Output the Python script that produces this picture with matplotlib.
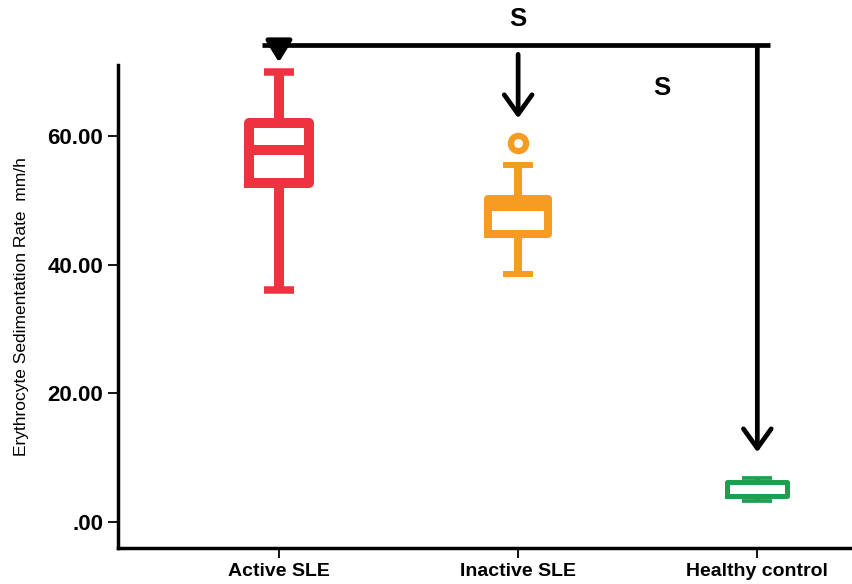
import matplotlib.pyplot as plt

# Datos (mm/h)
grupos = ['Active SLE', 'Inactive SLE', 'Healthy control']
minimos = [36.1, 38.5, 3.3]
q1 = [52.7, 44.8, 4.05]
medianas = [57.8, 49.0, 4.05]
q3 = [62.0, 50.2, 6.2]
maximos = [70.0, 55.5, 6.9]
atipicos = [[], [58.9], []]
colores = ['#EE3340', '#F79C22', '#1E9E50']
grosores = [7.2, 5.8, 3.6]

yticks = [0, 20, 40, 60]
ytick_labels = ['.00', '20.00', '40.00', '60.00']

fig = plt.figure(figsize=(8.53, 5.84), dpi=100)
ax = fig.add_axes([0.138, 0.0616, 0.862, 0.8274])

for i in range(len(grupos)):
    stats = [{'whislo': minimos[i], 'q1': q1[i], 'med': medianas[i],
              'q3': q3[i], 'whishi': maximos[i], 'fliers': atipicos[i]}]
    c = colores[i]
    lw = grosores[i]
    ax.bxp(stats, positions=[i + 1], widths=0.25, capwidths=0.125,
           boxprops=dict(color=c, linewidth=lw),
           medianprops=dict(color=c, linewidth=lw, solid_capstyle='butt'),
           whiskerprops=dict(color=c, linewidth=lw, solid_capstyle='butt'),
           capprops=dict(color=c, linewidth=lw * 0.75, solid_capstyle='butt'),
           flierprops=dict(marker='o', markerfacecolor='white', markeredgecolor=c,
                           markersize=11, markeredgewidth=4.5))

ax.set_xlim(0.326, 3.40)
ax.set_ylim(-4.04, 71.04)
ax.set_xticks([1, 2, 3])
ax.set_xticklabels(grupos, fontsize=14, fontweight='bold', family='Liberation Sans')
ax.set_yticks(yticks)
ax.set_yticklabels(ytick_labels, fontsize=16, fontweight='bold', family='Liberation Sans')
ax.tick_params(axis='both', direction='out', length=7, width=1.3)
ax.spines['top'].set_visible(False)
ax.spines['right'].set_visible(False)
ax.spines['left'].set_linewidth(2.5)
ax.spines['bottom'].set_linewidth(2.5)
ax.set_ylabel('Erythrocyte Sedimentation Rate  mm/h', fontsize=12.5, family='Liberation Sans')
ax.yaxis.set_label_coords(-0.12, 0.5)

# Flechas de significancia
y_linea = 74.1
ax.plot([0.93, 3.055], [y_linea, y_linea], color='black', linewidth=3.4, clip_on=False,
        solid_capstyle='butt')
flecha = dict(arrowstyle='->,head_length=1.4,head_width=1.0', color='black', lw=3.4)
flecha_llena = dict(arrowstyle='-|>,head_length=1.3,head_width=0.8', color='black', lw=3.4)
ax.annotate('', xy=(1, 71.0), xytext=(1, y_linea), arrowprops=flecha_llena, annotation_clip=False)
ax.annotate('', xy=(2, 62.3), xytext=(2, 73.1), arrowprops=flecha, annotation_clip=False)
ax.annotate('', xy=(3, 10.4), xytext=(3, y_linea), arrowprops=flecha, annotation_clip=False)

ax.text(2, 78.2, 'S', fontsize=18.5, fontweight='bold', family='Liberation Sans',
        ha='center', va='center', clip_on=False)
ax.text(2.60, 67.4, 'S', fontsize=18.5, fontweight='bold', family='Liberation Sans',
        ha='center', va='center')

plt.savefig('out.png', dpi=100)
